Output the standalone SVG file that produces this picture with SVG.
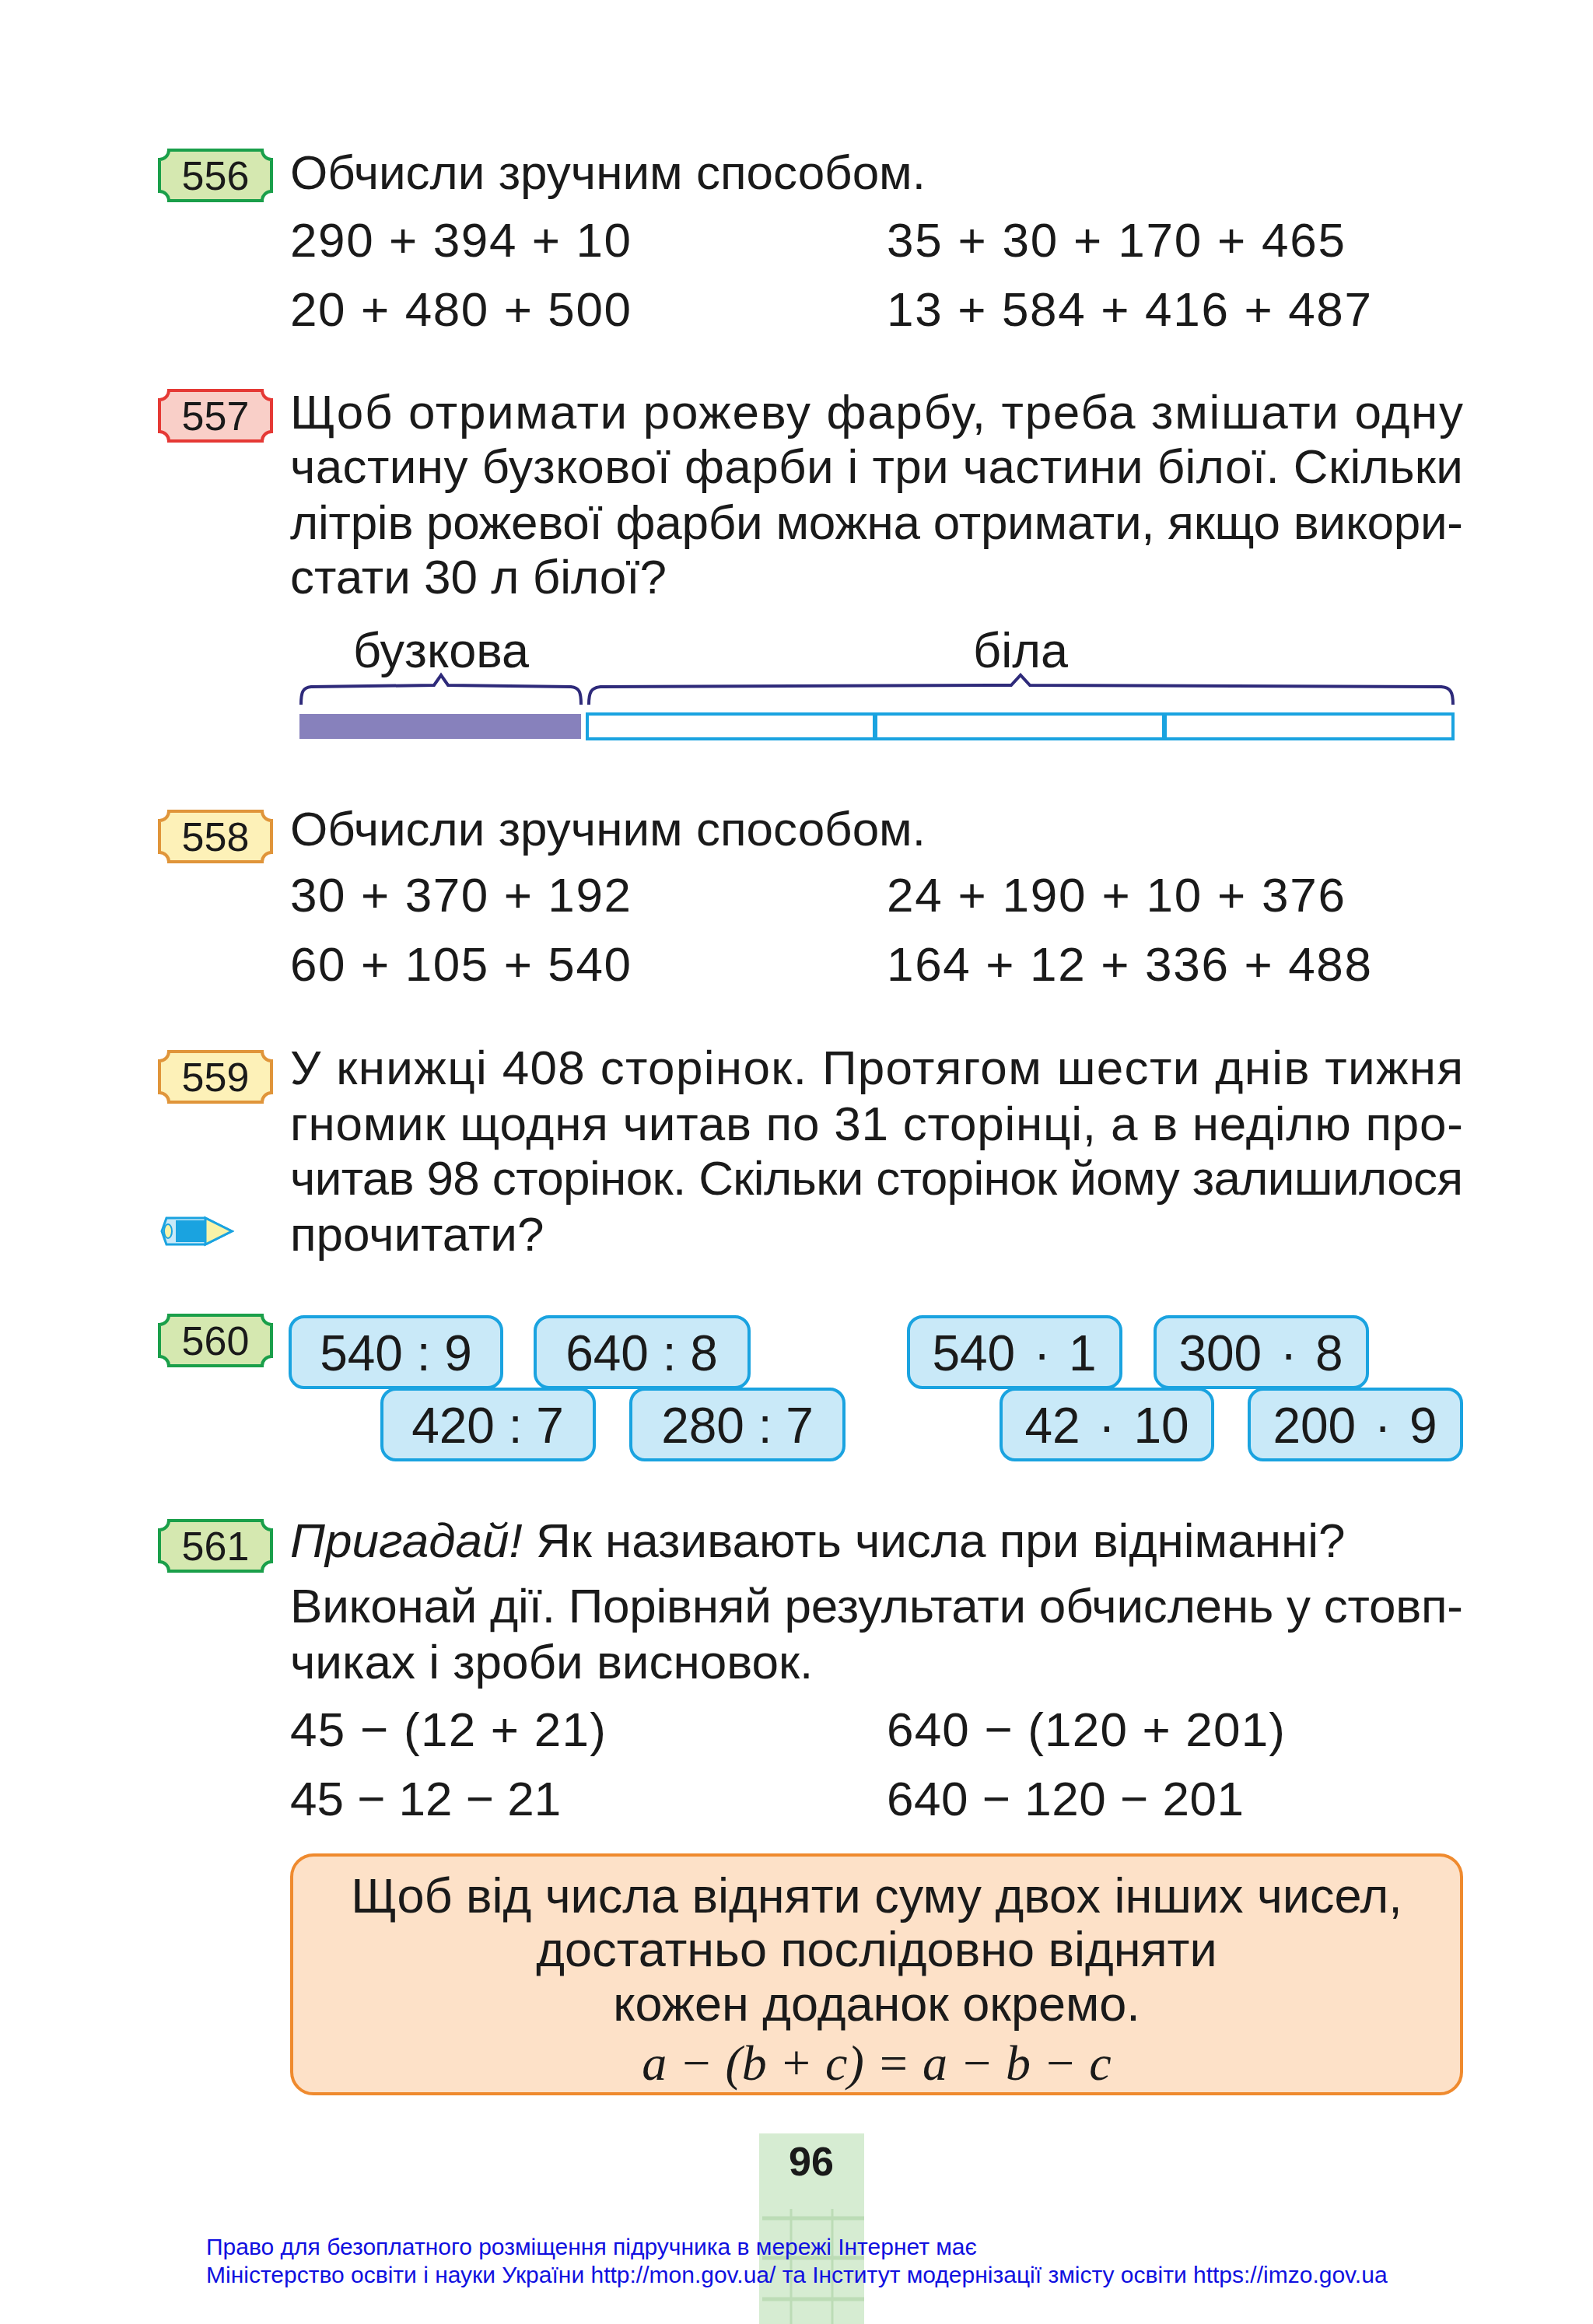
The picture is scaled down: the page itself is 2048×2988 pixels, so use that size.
<svg xmlns="http://www.w3.org/2000/svg" width="2048" height="2988" viewBox="0 0 2048 2988">
<style>
.t{font-family:"Liberation Sans",Arial,sans-serif;font-size:62px;fill:#1a1a1a}
.b{font-family:"Liberation Sans",Arial,sans-serif;font-size:52px;fill:#1a1a1a;text-anchor:middle}
.bx{font-family:"Liberation Sans",Arial,sans-serif;font-size:64px;fill:#1a1a1a;text-anchor:middle}
.r{font-family:"Liberation Sans",Arial,sans-serif;font-size:63px;fill:#1a1a1a;text-anchor:middle}
.f{font-family:"Liberation Sans",Arial,sans-serif;font-size:30px;fill:#1010e0}
.g{fill:#d5e8b0;stroke:#1a9f4a;stroke-width:4}
.p{fill:#f9cfc8;stroke:#e53935;stroke-width:4}
.y{fill:#fdf1b8;stroke:#e0953a;stroke-width:4}
.blue{fill:#c9e9f8;stroke:#1aa3e0;stroke-width:4}
.br{fill:none;stroke:#2e2a7a;stroke-width:4}
</style>
<defs>
<path id="badge" d="M12,0 H132 A12 12 0 0 0 144,12 V53 A12 12 0 0 0 132,65 H12 A12 12 0 0 0 0,53 V12 A12 12 0 0 0 12,0 Z"/>
</defs>
<rect width="2048" height="2988" fill="#ffffff"/>

<g id="n556">
<use href="#badge" x="205" y="193" class="g"/>
<text class="b" x="277" y="244">556</text>
<text class="t" x="373" y="243">Обчисли зручним способом.</text>
<text class="t" x="373" y="330" textLength="438" lengthAdjust="spacing">290 + 394 + 10</text>
<text class="t" x="373" y="419" textLength="438" lengthAdjust="spacing">20 + 480 + 500</text>
<text class="t" x="1140" y="330" textLength="589" lengthAdjust="spacing">35 + 30 + 170 + 465</text>
<text class="t" x="1140" y="419" textLength="623" lengthAdjust="spacing">13 + 584 + 416 + 487</text>
</g>

<g id="n557">
<use href="#badge" x="205" y="502" class="p"/>
<text class="b" x="277" y="553">557</text>
<text class="t" x="373" y="551" textLength="1508" lengthAdjust="spacing">Щоб отримати рожеву фарбу, треба змішати одну</text>
<text class="t" x="373" y="621" textLength="1508" lengthAdjust="spacing">частину бузкової фарби і три частини білої. Скільки</text>
<text class="t" x="373" y="693" textLength="1508" lengthAdjust="spacing">літрів рожевої фарби можна отримати, якщо викори-</text>
<text class="t" x="373" y="763">стати 30 л білої?</text>
</g>

<g id="diagram557">
<text class="r" x="567" y="858">бузкова</text>
<text class="r" x="1312" y="858">біла</text>
<path class="br" d="M387,906 C387,890 389,884 400,883 L558,881 L567,868 L576,881 L734,883 C745,884 747,890 747,906"/>
<path class="br" d="M757,906 C757,890 760,884 772,883 L1300,881 L1312,868 L1324,881 L1853,883 C1865,884 1868,890 1868,906"/>
<rect x="385" y="918" width="362" height="32" fill="#8781bc"/>
<rect x="755" y="918" width="369" height="32" fill="#fff" stroke="#1aa3e0" stroke-width="4"/>
<rect x="1126" y="918" width="370" height="32" fill="#fff" stroke="#1aa3e0" stroke-width="4"/>
<rect x="1498" y="918" width="370" height="32" fill="#fff" stroke="#1aa3e0" stroke-width="4"/>
</g>

<g id="n558">
<use href="#badge" x="205" y="1043" class="y"/>
<text class="b" x="277" y="1094">558</text>
<text class="t" x="373" y="1087">Обчисли зручним способом.</text>
<text class="t" x="373" y="1172" textLength="438" lengthAdjust="spacing">30 + 370 + 192</text>
<text class="t" x="373" y="1261" textLength="438" lengthAdjust="spacing">60 + 105 + 540</text>
<text class="t" x="1140" y="1172" textLength="589" lengthAdjust="spacing">24 + 190 + 10 + 376</text>
<text class="t" x="1140" y="1261" textLength="623" lengthAdjust="spacing">164 + 12 + 336 + 488</text>
</g>

<g id="n559">
<use href="#badge" x="205" y="1352" class="y"/>
<text class="b" x="277" y="1403">559</text>
<text class="t" x="373" y="1394" textLength="1508" lengthAdjust="spacing">У книжці 408 сторінок. Протягом шести днів тижня</text>
<text class="t" x="373" y="1466" textLength="1508" lengthAdjust="spacing">гномик щодня читав по 31 сторінці, а в неділю про-</text>
<text class="t" x="373" y="1536" textLength="1508" lengthAdjust="spacing">читав 98 сторінок. Скільки сторінок йому залишилося</text>
<text class="t" x="373" y="1608">прочитати?</text>
</g>

<g id="pencil">
<polygon points="214,1566 264,1566 298,1583 264,1600 214,1600 208,1583" fill="#c9e9f8" stroke="#1aa3e0" stroke-width="3"/>
<rect x="226" y="1569" width="38" height="28" fill="#1aa3e0"/>
<polygon points="264,1566 298,1583 264,1600" fill="#f7f3a8" stroke="#1aa3e0" stroke-width="3"/>
<ellipse cx="216" cy="1583" rx="5" ry="9" fill="#f7f3a8" stroke="#1aa3e0" stroke-width="2"/>
</g>

<g id="n560">
<use href="#badge" x="205" y="1691" class="g"/>
<text class="b" x="277" y="1742">560</text>
<rect class="blue" x="373" y="1693" width="272" height="91" rx="18"/>
<text class="bx" x="509" y="1762">540 : 9</text>
<rect class="blue" x="688" y="1693" width="275" height="91" rx="18"/>
<text class="bx" x="825" y="1762">640 : 8</text>
<rect class="blue" x="491" y="1786" width="273" height="91" rx="18"/>
<text class="bx" x="627" y="1855">420 : 7</text>
<rect class="blue" x="811" y="1786" width="274" height="91" rx="18"/>
<text class="bx" x="948" y="1855">280 : 7</text>
<rect class="blue" x="1168" y="1693" width="273" height="91" rx="18"/>
<text class="bx" x="1304" y="1762" word-spacing="6">540 · 1</text>
<rect class="blue" x="1485" y="1693" width="273" height="91" rx="18"/>
<text class="bx" x="1621" y="1762" word-spacing="6">300 · 8</text>
<rect class="blue" x="1287" y="1786" width="272" height="91" rx="18"/>
<text class="bx" x="1423" y="1855" word-spacing="6">42 · 10</text>
<rect class="blue" x="1606" y="1786" width="273" height="91" rx="18"/>
<text class="bx" x="1742" y="1855" word-spacing="6">200 · 9</text>
</g>

<g id="n561">
<use href="#badge" x="205" y="1955" class="g"/>
<text class="b" x="277" y="2006">561</text>
<text class="t" x="373" y="2002"><tspan font-style="italic">Пригадай!</tspan> Як називають числа при відніманні?</text>
<text class="t" x="373" y="2086" textLength="1508" lengthAdjust="spacing">Виконай дії. Порівняй результати обчислень у стовп-</text>
<text class="t" x="373" y="2158">чиках і зроби висновок.</text>
<text class="t" x="373" y="2245" textLength="406" lengthAdjust="spacing">45 − (12 + 21)</text>
<text class="t" x="373" y="2334">45 − 12 − 21</text>
<text class="t" x="1140" y="2245" textLength="512" lengthAdjust="spacing">640 − (120 + 201)</text>
<text class="t" x="1140" y="2334" textLength="459" lengthAdjust="spacing">640 − 120 − 201</text>
</g>

<g id="rule">
<rect x="375" y="2385" width="1504" height="307" rx="28" fill="#fde1c8" stroke="#ef8a2e" stroke-width="4"/>
<text class="r" x="1127" y="2459">Щоб від числа відняти суму двох інших чисел,</text>
<text class="r" x="1127" y="2528">достатньо послідовно відняти</text>
<text class="r" x="1127" y="2598">кожен доданок окремо.</text>
<text x="1127" y="2674" text-anchor="middle" font-family="'Liberation Serif','Times New Roman',serif" font-style="italic" font-size="64" fill="#1a1a1a">a − (b + c) = a − b − c</text>
</g>

<g id="page">
<rect x="976" y="2743" width="135" height="245" fill="#d6ecd2"/>
<line x1="1017" y1="2840" x2="1017" y2="2988" stroke="#bcdcb6" stroke-width="3"/>
<line x1="1070" y1="2840" x2="1070" y2="2988" stroke="#bcdcb6" stroke-width="3"/>
<line x1="980" y1="2852" x2="1111" y2="2852" stroke="#bcdcb6" stroke-width="5"/>
<line x1="980" y1="2903" x2="1111" y2="2903" stroke="#bcdcb6" stroke-width="5"/>
<line x1="980" y1="2956" x2="1111" y2="2956" stroke="#bcdcb6" stroke-width="5"/>
<text x="1043" y="2797" text-anchor="middle" font-family="'Liberation Sans',Arial,sans-serif" font-weight="bold" font-size="52" fill="#1a1a1a">96</text>
</g>

<g id="footer">
<text class="f" x="265" y="2899">Право для безоплатного розміщення підручника в мережі Інтернет має</text>
<text class="f" x="265" y="2935">Міністерство освіти і науки України http://mon.gov.ua/ та Інститут модернізації змісту освіти https://imzo.gov.ua</text>
</g>
</svg>
